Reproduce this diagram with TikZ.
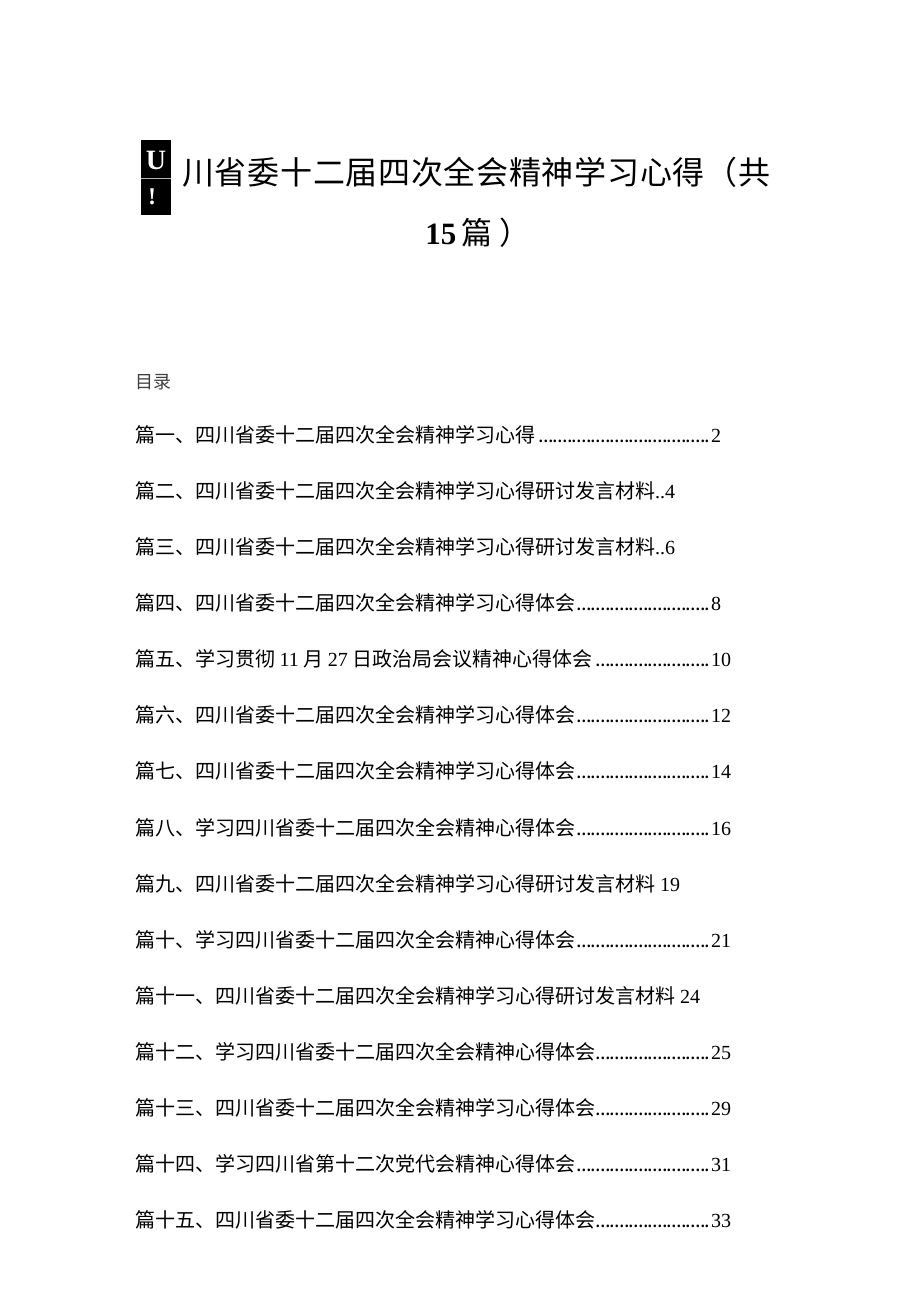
\documentclass[tikz,border=0pt]{standalone}
\usepackage{fontspec}
\setmainfont{Liberation Serif}
\newfontfamily\cjk{Noto Sans CJK SC}
\newcommand\entfill[3]{\node[anchor=west,inner sep=0pt] (e#1) at (135,#1) {\hbox to 576pt{\cjk #2\leaders\hbox to 4.75pt{\hss.\hss}\hfill}#3};}
\newcommand\entin[3]{\node[anchor=west,inner sep=0pt] (e#1) at (135,#1) {{\cjk #2}#3};}
\begin{document}
\begin{tikzpicture}[x=1pt,y=-1pt,every node/.style={font=\fontsize{20}{20}\selectfont}]
\useasboundingbox[fill=white] (0,0) rectangle (920,1301);
\fill[black] (141,140) rectangle (171,215);
\draw[gray!60] (141,178) -- (171,178);
\node[text=white,font=\fontsize{28}{28}\selectfont\bfseries,inner sep=0pt] (u) at (156,160) {U};
\node[text=white,font=\fontsize{24}{24}\selectfont\bfseries,inner sep=0pt] (ex) at (152,197) {!};
\node[anchor=west,inner sep=0pt,font=\fontsize{32}{32}\selectfont\cjk] (t1) at (182,172) {\hbox to 588pt{川\hfil 省\hfil 委\hfil 十\hfil 二\hfil 届\hfil 四\hfil 次\hfil 全\hfil 会\hfil 精\hfil 神\hfil 学\hfil 习\hfil 心\hfil 得\hfil （\hfil 共}};
\node[inner sep=0pt,font=\fontsize{31}{31}\selectfont] (t2) at (478,233) {\textbf{15}\,{\cjk 篇 ）}};
\node[anchor=west,inner sep=0pt,text=black!75,font=\fontsize{18}{18}\selectfont\cjk] (ml) at (135,382) {目录};
\entfill{435}{篇一、四川省委十二届四次全会精神学习心得}{2}
\entin{491}{篇二、四川省委十二届四次全会精神学习心得研讨发言材料}{..4}
\entin{547}{篇三、四川省委十二届四次全会精神学习心得研讨发言材料}{..6}
\entfill{603}{篇四、四川省委十二届四次全会精神学习心得体会}{8}
\entfill{659}{篇五、学习贯彻 {\rmfamily 11} 月 {\rmfamily 27} 日政治局会议精神心得体会}{10}
\entfill{715}{篇六、四川省委十二届四次全会精神学习心得体会}{12}
\entfill{771}{篇七、四川省委十二届四次全会精神学习心得体会}{14}
\entfill{828}{篇八、学习四川省委十二届四次全会精神心得体会}{16}
\entin{884}{篇九、四川省委十二届四次全会精神学习心得研讨发言材料}{ 19}
\entfill{940}{篇十、学习四川省委十二届四次全会精神心得体会}{21}
\entin{996}{篇十一、四川省委十二届四次全会精神学习心得研讨发言材料}{ 24}
\entfill{1052}{篇十二、学习四川省委十二届四次全会精神心得体会}{25}
\entfill{1108}{篇十三、四川省委十二届四次全会精神学习心得体会}{29}
\entfill{1164}{篇十四、学习四川省第十二次党代会精神心得体会}{31}
\entfill{1220}{篇十五、四川省委十二届四次全会精神学习心得体会}{33}
\end{tikzpicture}
\end{document}
